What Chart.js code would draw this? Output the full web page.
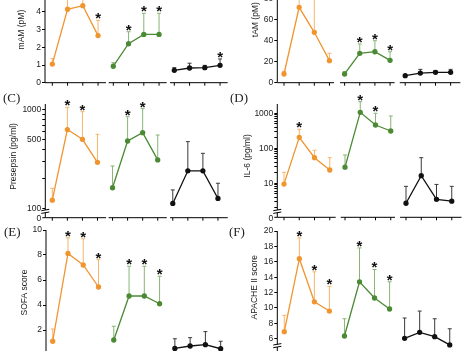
<!DOCTYPE html>
<html>
<head>
<meta charset="utf-8">
<script src="https://cdn.jsdelivr.net/npm/chart.js@4.4.1/dist/chart.umd.min.js"></script>
<style>
html, body { margin: 0; padding: 0; background: #fff; }
#fig { position: relative; width: 474px; height: 351px; overflow: hidden; }
#fig canvas { position: absolute; z-index: 1; }
.tag { position: absolute; z-index: 2; font: 13px "Liberation Serif", serif; color: #222; line-height: 13px; }
</style>
</head>
<body>
<div id="fig">
  <div class="tag" style="left:3px;top:91px">(C)</div>
  <div class="tag" style="left:230px;top:91px">(D)</div>
  <div class="tag" style="left:4px;top:225px">(E)</div>
  <div class="tag" style="left:229px;top:225px">(F)</div>
</div>
<script>
// three groups, four time points each (no x labels in the figure)
const groups = ['Group 1', 'Group 2', 'Group 3'];
const timepoints = ['T1', 'T2', 'T3', 'T4'];

// mAM (pM)
const mamMean  = [[1.05, 4.15, 4.35, 2.66], [0.93, 2.2, 2.73, 2.73], [0.7, 0.83, 0.85, 0.98]];
const mamUpper = [[1.36, 5.2, 5.3, 3.52], [1.13, 2.88, 3.92, 3.92], [0.85, 1.1, 0.98, 1.34]];
const mamSig   = [[0, 1, 1, 1], [0, 1, 1, 1], [0, 0, 0, 1]];

// tAM (pM)
const tamMean  = [[8.3, 71.8, 48, 21], [8.3, 28, 29.5, 21.3], [6.7, 9.2, 9.9, 9.9]];
const tamUpper = [[10.8, 92, 86, 28], [10.5, 36.9, 40, 29.5], [7.5, 12.7, 11.5, 12.7]];
const tamSig   = [[0, 1, 1, 0], [0, 1, 1, 1], [0, 0, 0, 0]];

// Presepsin (pg/ml)
const psMean  = [[122, 634, 505, 295], [163, 485, 589, 312], [113, 242, 242, 127]];
const psUpper = [[161, 1065, 961, 567], [271, 855, 1031, 558], [155, 478, 364, 181]];
const psSig   = [[0, 1, 1, 0], [0, 1, 1, 0], [0, 0, 0, 0]];

// IL-6 (pg/ml)
const il6Mean  = [[9.5, 206, 54, 24], [29, 1068, 463, 312], [2.7, 16.5, 3.5, 3.1]];
const il6Upper = [[20.6, 349, 88, 54], [64.5, 2145, 1000, 837], [8.2, 54, 9.3, 8.2]];
const il6Sig   = [[0, 1, 0, 0], [0, 1, 1, 0], [0, 0, 0, 0]];

// SOFA score
const sofaMean  = [[1.1, 8.13, 7.2, 5.44], [1.2, 4.72, 4.72, 4.1], [0.53, 0.72, 0.83, 0.5]];
const sofaUpper = [[2.08, 9.38, 9.3, 7.63], [2.3, 7.1, 7.1, 6.3], [1.3, 1.39, 1.87, 1.1]];
const sofaSig   = [[0, 1, 1, 1], [0, 1, 1, 1], [0, 0, 0, 0]];

// APACHE II score
const apMean  = [[6.92, 16.4, 10.8, 9.6], [6.36, 13.4, 11.3, 9.87], [6.06, 6.84, 6.27, 5.2]];
const apUpper = [[9.05, 19.1, 14.7, 12.8], [8.6, 17.8, 15.0, 13.4], [8.7, 9.6, 8.6, 7.3]];
const apSig   = [[0, 1, 1, 1], [0, 1, 1, 1], [0, 0, 0, 0]];

// y tick values and which of them carry a label
const mamTicks = [0, 1, 2, 3, 4, 5, 6];
const tamTicks = [0, 20, 40, 60, 80, 100, 120];
const psTicks = [100, 200, 300, 400, 500, 600, 700, 800, 900, 1000];
const psLabels = [100, 500, 1000];
const il6Ticks = [2, 3, 4, 5, 6, 7, 8, 9, 10, 20, 30, 40, 50, 60, 70, 80, 90, 100, 200, 300, 400, 500, 600, 700, 800, 900, 1000];
const il6Labels = [10, 100, 1000];
const sofaTicks = [0, 2, 4, 6, 8, 10];
const apTicks = [6, 8, 10, 12, 14, 16, 18, 20];

const lineColors = ['#F0952F', '#4B8A34', '#111111'];
const errColors = ['#F5B56C', '#88B577', '#3a3a3a'];
const TICK_FONT = { family: '"Liberation Sans", Arial, sans-serif', size: 8.5 };

// page geometry of each panel (pixels); cTop/cBottom keep the canvases from overlapping
const panels = [
  { id: 'A', L: 45, R: 227.7, T: -23.5, B: 82.7, idx0: 52.3, step: 15.25, type: 'linear', min: 0, max: 6,
    ticks: mamTicks, labels: null, title: 'mAM (pM)', titleX: 22, xAxisY: 82.7, cTop: -40, cBottom: 90,
    segs: [[null, 3.52], [3.7, 7.5], [7.72, 11.5]], mean: mamMean, upper: mamUpper, sig: mamSig },
  { id: 'B', L: 277.3, R: 460.7, T: -43.3, B: 82.7, idx0: 284, step: 15.15, type: 'linear', min: 0, max: 120,
    ticks: tamTicks, labels: null, title: 'tAM (pM)', titleX: 255.7, xAxisY: 82.7, cTop: -60, cBottom: 90,
    segs: [[null, 3.3], [3.7, 7.3], [7.64, 11.64]], mean: tamMean, upper: tamUpper, sig: tamSig },
  { id: 'C', L: 45.3, R: 227.7, T: 104, B: 208.7, idx0: 52.3, step: 15.06, type: 'logarithmic', min: 100, max: 1150,
    ticks: psTicks, labels: psLabels, title: 'Presepsin (pg/ml)', titleX: 13.3, xAxisY: 217.7, breakY: 210, zero: true,
    cTop: 90, cBottom: 225,
    segs: [[null, 3.57], [3.74, 7.6], [7.82, 11.65]], mean: psMean, upper: psUpper, sig: psSig },
  { id: 'D', L: 277.3, R: 460.7, T: 104, B: 207.8, idx0: 284, step: 15.25, type: 'logarithmic', min: 2, max: 1844,
    ticks: il6Ticks, labels: il6Labels, title: 'IL-6 (pg/ml)', titleX: 247.3, xAxisY: 217.3, breakY: 210, zero: true,
    cTop: 90, cBottom: 225,
    segs: [[null, 3.39], [3.72, 7.28], [7.61, 11.64]], mean: il6Mean, upper: il6Upper, sig: il6Sig },
  { id: 'E', L: 46, R: 228.3, T: 230, B: 355, idx0: 52.7, step: 15.27, type: 'linear', min: 0, max: 10,
    ticks: sofaTicks, labels: null, title: 'SOFA score', titleX: 25, xAxisY: 355, cTop: 225, cBottom: 372,
    segs: [[null, 3.5], [3.7, 7.5], [7.7, 11.5]], mean: sofaMean, upper: sofaUpper, sig: sofaSig },
  { id: 'F', L: 277.3, R: 457.3, T: 231, B: 343.4, idx0: 284.3, step: 15.04, type: 'linear', min: 5.4, max: 20,
    ticks: apTicks, labels: null, title: 'APACHE II score', titleX: 254.7, xAxisY: 355, breakY: 344.3,
    cTop: 225, cBottom: 372,
    segs: [[null, 3.5], [3.7, 7.5], [7.7, 11.5]], mean: apMean, upper: apUpper, sig: apSig }
];

function decor(p, cLeft, cTop) {
  return {
    id: 'decor' + p.id,
    beforeDatasetsDraw(chart) {
      const { ctx, scales: { x, y } } = chart;
      ctx.save();
      ctx.lineWidth = 1;
      p.mean.forEach((vals, g) => {
        ctx.strokeStyle = errColors[g];
        ctx.beginPath();
        vals.forEach((v, i) => {
          const px = x.getPixelForValue(g * timepoints.length + i);
          const y0 = y.getPixelForValue(v);
          const y1 = y.getPixelForValue(p.upper[g][i]);
          ctx.moveTo(px, y0);
          ctx.lineTo(px, y1);
          ctx.moveTo(px - 2, y1);
          ctx.lineTo(px + 2, y1);
        });
        ctx.stroke();
      });
      ctx.restore();
    },
    afterDraw(chart) {
      const { ctx, chartArea, scales: { x, y } } = chart;
      const L = chartArea.left, T = chartArea.top, B = chartArea.bottom;
      const ax = p.xAxisY - cTop;
      ctx.save();
      ctx.strokeStyle = '#000';
      ctx.lineWidth = 1;
      ctx.beginPath();
      // y axis, with a break mark where the scale jumps to 0
      if (p.breakY) {
        const b = p.breakY - cTop;
        ctx.moveTo(L, T); ctx.lineTo(L, b);
        ctx.moveTo(L, b + 2.7); ctx.lineTo(L, ax);
        ctx.moveTo(L - 4, b + 0.7); ctx.lineTo(L + 4, b - 0.7);
        ctx.moveTo(L - 4, b + 3.4); ctx.lineTo(L + 4, b + 2.0);
      } else {
        ctx.moveTo(L, T); ctx.lineTo(L, ax);
      }
      // broken x axis, one piece per group
      p.segs.forEach(([a, b]) => {
        const xa = a === null ? L : x.getPixelForValue(a);
        ctx.moveTo(xa, ax);
        ctx.lineTo(x.getPixelForValue(b), ax);
      });
      const n = groups.length * timepoints.length;
      for (let i = 0; i < n; i++) {
        const px = x.getPixelForValue(i);
        ctx.moveTo(px, ax);
        ctx.lineTo(px, ax + 3);
      }
      if (p.zero) { ctx.moveTo(L - 3, ax); ctx.lineTo(L, ax); }
      ctx.stroke();

      ctx.fillStyle = '#222';
      if (p.zero) {
        ctx.font = TICK_FONT.size + 'px ' + TICK_FONT.family;
        ctx.textAlign = 'right';
        ctx.textBaseline = 'middle';
        ctx.fillText('0', L - 4, ax + 1);
      }

      // significance marks
      ctx.fillStyle = '#111';
      ctx.font = 'bold 15px "Liberation Sans", Arial, sans-serif';
      ctx.textAlign = 'center';
      ctx.textBaseline = 'alphabetic';
      p.sig.forEach((flags, g) => {
        flags.forEach((f, i) => {
          if (!f) return;
          const px = x.getPixelForValue(g * timepoints.length + i);
          const py = y.getPixelForValue(p.upper[g][i]);
          ctx.fillText('*', px, py + 3);
        });
      });

      // y axis title
      ctx.fillStyle = '#222';
      ctx.font = '8.5px "Liberation Sans", Arial, sans-serif';
      ctx.textBaseline = 'middle';
      ctx.translate(p.titleX - cLeft, (T + B) / 2);
      ctx.rotate(-Math.PI / 2);
      ctx.fillText(p.title, 0, 0);
      ctx.restore();
    }
  };
}

function buildPanel(p) {
  const cLeft = Math.floor(p.L) - 40;
  const cTop = p.cTop;
  const cW = Math.ceil(p.R) + 8 - cLeft;
  const cH = p.cBottom - cTop;
  const canvas = document.createElement('canvas');
  canvas.width = cW;
  canvas.height = cH;
  canvas.style.left = cLeft + 'px';
  canvas.style.top = cTop + 'px';
  canvas.style.width = cW + 'px';
  canvas.style.height = cH + 'px';
  document.getElementById('fig').appendChild(canvas);

  const yW = p.L - cLeft;
  const datasets = groups.map((g, gi) => ({
    label: g,
    data: p.mean[gi].map((v, i) => ({ x: gi * timepoints.length + i, y: v })),
    borderColor: lineColors[gi],
    backgroundColor: lineColors[gi],
    borderWidth: 1.3,
    pointRadius: 2,
    pointHoverRadius: 2,
    tension: 0,
    clip: false
  }));

  new Chart(canvas, {
    type: 'line',
    data: { datasets },
    options: {
      responsive: false,
      animation: false,
      devicePixelRatio: 1,
      events: [],
      layout: { padding: { left: 0, top: p.T - cTop, right: cLeft + cW - p.R, bottom: cTop + cH - p.B } },
      plugins: { legend: { display: false }, tooltip: { enabled: false } },
      scales: {
        x: {
          type: 'linear',
          display: false,
          min: (p.L - p.idx0) / p.step,
          max: (p.R - p.idx0) / p.step
        },
        y: {
          type: p.type,
          min: p.min,
          max: p.max,
          afterFit: s => { s.width = yW; s.paddingTop = 0; s.paddingBottom = 0; },
          afterBuildTicks: s => { s.ticks = p.ticks.map(v => ({ value: v })); },
          border: { display: false },
          grid: { drawOnChartArea: false, drawTicks: true, tickLength: 3, color: '#000' },
          ticks: {
            autoSkip: false,
            padding: 1,
            color: '#222',
            font: TICK_FONT,
            callback: v => (p.labels === null || p.labels.includes(v)) ? String(v) : ''
          }
        }
      }
    },
    plugins: [decor(p, cLeft, cTop)]
  });
}

panels.forEach(buildPanel);
</script>
</body>
</html>
